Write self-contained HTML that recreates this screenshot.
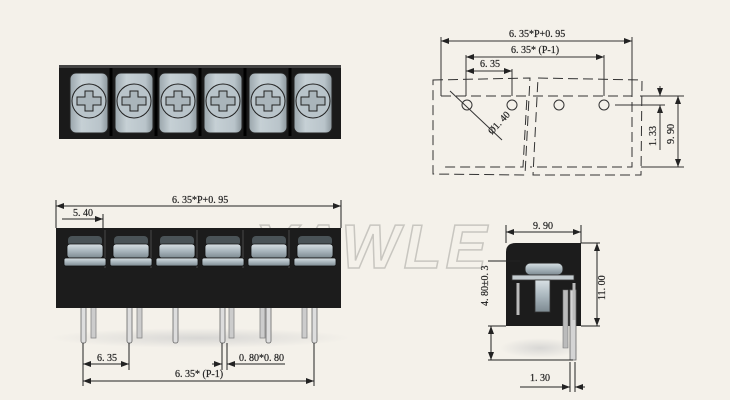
<!DOCTYPE html>
<html><head><style>
body{margin:0;background:#f4f1ea;}
svg{display:block}
text{font-family:"Liberation Serif",serif;font-size:10px;fill:#222;stroke:#222;stroke-width:0.2;}
</style></head><body>
<svg width="730" height="400" viewBox="0 0 730 400">
<defs>
<marker id="a" markerWidth="8" markerHeight="6" refX="8" refY="3" orient="auto-start-reverse"><path d="M0,0 L8,3 L0,6z" fill="#222"/></marker>
<linearGradient id="sc" x1="0" y1="0" x2="0" y2="1"><stop offset="0" stop-color="#d8e0e4"/><stop offset="0.5" stop-color="#a9b6bd"/><stop offset="1" stop-color="#7d8a91"/></linearGradient>
<linearGradient id="tc" x1="0" y1="0" x2="1" y2="0"><stop offset="0" stop-color="#9aa6ac"/><stop offset="0.3" stop-color="#c6d0d5"/><stop offset="0.8" stop-color="#b9c4ca"/><stop offset="1" stop-color="#8d989e"/></linearGradient>
<radialGradient id="sh"><stop offset="0" stop-color="#ccc" stop-opacity=".7"/><stop offset="1" stop-color="#ccc" stop-opacity="0"/></radialGradient>
</defs>
<rect width="730" height="400" fill="#f4f1ea"/>
<text x="255" y="268" style="font-family:'Liberation Sans',sans-serif;font-size:62px;font-style:italic;font-weight:bold;fill:none;stroke:#c8c6c0;stroke-width:1.5;letter-spacing:4px">YAWLE</text>

<!-- top view -->
<rect x="59" y="66" width="282" height="73" fill="#1a1a1a"/>
<rect x="59" y="65" width="282" height="3" fill="#444"/>
<g fill="url(#tc)" stroke="#222" stroke-width="1">
<rect x="70" y="73" width="38" height="60" rx="6"/>
<rect x="115" y="73" width="38" height="60" rx="6"/>
<rect x="159" y="73" width="38" height="60" rx="6"/>
<rect x="204" y="73" width="38" height="60" rx="6"/>
<rect x="249" y="73" width="38" height="60" rx="6"/>
<rect x="294" y="73" width="38" height="60" rx="6"/>
</g>
<g stroke="#000" stroke-width="3">
<path d="M111,68V136 M156,68V136 M200,68V136 M245,68V136 M290,68V136"/>
</g>
<g fill="#b9c4ca" stroke="#222" stroke-width="1">
<circle cx="89" cy="101" r="17"/><circle cx="134" cy="101" r="17"/><circle cx="178" cy="101" r="17"/><circle cx="223" cy="101" r="17"/><circle cx="268" cy="101" r="17"/><circle cx="313" cy="101" r="17"/>
</g>
<g fill="#aab5bb" stroke="#222" stroke-width="1">
<path d="M85,91h8v6h8v8h-8v6h-8v-6h-8v-8h8z"/>
<path d="M130,91h8v6h8v8h-8v6h-8v-6h-8v-8h8z"/>
<path d="M174,91h8v6h8v8h-8v6h-8v-6h-8v-8h8z"/>
<path d="M219,91h8v6h8v8h-8v6h-8v-6h-8v-8h8z"/>
<path d="M264,91h8v6h8v8h-8v6h-8v-6h-8v-8h8z"/>
<path d="M309,91h8v6h8v8h-8v6h-8v-6h-8v-8h8z"/>
</g>

<!-- right dashed drawing -->
<g stroke="#333" fill="none" stroke-width="1">
<path d="M433,80 L530,78 L525,175 L433,174z" stroke-dasharray="10,5"/>
<path d="M538,78 L642,80 L641,175 L533,175z" stroke-dasharray="10,5"/>
<path d="M441,96 L527,96 L523,167 L441,167 M533,96 L632,96 L632,167 L530,167" stroke-dasharray="10,5"/>
<circle cx="467" cy="105" r="5"/><circle cx="512" cy="105" r="5"/><circle cx="559" cy="105" r="5"/><circle cx="604" cy="105" r="5"/>
<path d="M441,96V37 M632,96V37 M466,96V55 M512,96V69 M604,96V55"/>
<path d="M441,41H632" marker-start="url(#a)" marker-end="url(#a)"/>
<path d="M466,57H604" marker-start="url(#a)" marker-end="url(#a)"/>
<path d="M466,71H512" marker-start="url(#a)" marker-end="url(#a)"/>
<path d="M450,91 L502,140"/>
<path d="M615,105H665 M640,96H684 M641,167H684"/>
<path d="M660,86V96" marker-end="url(#a)"/><path d="M660,115V105" marker-end="url(#a)"/>
<path d="M660,105V150"/>
<path d="M678,96V167" marker-start="url(#a)" marker-end="url(#a)"/>
</g>
<text x="509" y="37">6. 35*P+0. 95</text>
<text x="511" y="53">6. 35* (P-1)</text>
<text x="480" y="67">6. 35</text>
<text transform="translate(492,135) rotate(-47)">Ø1. 40</text>
<text transform="translate(656,146) rotate(-90)">1. 33</text>
<text transform="translate(674,144) rotate(-90)">9. 90</text>

<!-- front view -->
<ellipse cx="200" cy="338" rx="150" ry="10" fill="url(#sh)"/>
<g fill="#ccc" stroke="#888" stroke-width="0.8">
<rect x="91" y="305" width="5" height="33"/><rect x="137" y="305" width="5" height="33"/><rect x="229" y="305" width="5" height="33"/><rect x="260" y="305" width="5" height="33"/><rect x="302" y="305" width="5" height="33"/>
</g>
<g fill="#ddd" stroke="#666" stroke-width="0.8">
<rect x="81" y="305" width="5" height="38" rx="2"/><rect x="127" y="305" width="5" height="38" rx="2"/><rect x="173" y="305" width="5" height="38" rx="2"/><rect x="220" y="305" width="5" height="38" rx="2"/><rect x="266" y="305" width="5" height="38" rx="2"/><rect x="312" y="305" width="5" height="38" rx="2"/>
</g>
<rect x="56" y="228" width="285" height="80" fill="#1c1c1c"/>
<g stroke="#3a3a3a" stroke-width="1.5"><path d="M105,230V268 M151,230V268 M197,230V268 M243,230V268 M289,230V268"/></g>
<g fill="#4a5357"><rect x="68" y="236" width="34" height="10" rx="4"/><rect x="114" y="236" width="34" height="10" rx="4"/><rect x="160" y="236" width="34" height="10" rx="4"/><rect x="206" y="236" width="34" height="10" rx="4"/><rect x="252" y="236" width="34" height="10" rx="4"/><rect x="298" y="236" width="34" height="10" rx="4"/></g>
<g fill="url(#sc)" stroke="#111" stroke-width="0.8">
<rect x="67" y="244" width="36" height="14" rx="3"/><rect x="113" y="244" width="36" height="14" rx="3"/><rect x="159" y="244" width="36" height="14" rx="3"/><rect x="205" y="244" width="36" height="14" rx="3"/><rect x="251" y="244" width="36" height="14" rx="3"/><rect x="297" y="244" width="36" height="14" rx="3"/>
<rect x="64" y="258" width="42" height="8" rx="2"/><rect x="110" y="258" width="42" height="8" rx="2"/><rect x="156" y="258" width="42" height="8" rx="2"/><rect x="202" y="258" width="42" height="8" rx="2"/><rect x="248" y="258" width="42" height="8" rx="2"/><rect x="294" y="258" width="42" height="8" rx="2"/>
</g>
<g stroke="#222" fill="none" stroke-width="1">
<path d="M56,228V200 M341,228V200 M56,222V214 M103,228V214"/>
<path d="M56,206H341" marker-start="url(#a)" marker-end="url(#a)"/>
<path d="M62,219H103" marker-end="url(#a)"/>
<path d="M83,343V386 M129,343V370 M222,343V370 M227,343V370 M314,343V386"/>
<path d="M83,364H129" marker-start="url(#a)" marker-end="url(#a)"/>
<path d="M83,381H314" marker-start="url(#a)" marker-end="url(#a)"/>
<path d="M212,364H222" marker-end="url(#a)"/><path d="M237,364H227" marker-end="url(#a)"/><path d="M237,364H285"/>
</g>
<text x="172" y="203">6. 35*P+0. 95</text>
<text x="73" y="216">5. 40</text>
<text x="97" y="361">6. 35</text>
<text x="239" y="361">0. 80*0. 80</text>
<text x="175" y="377">6. 35* (P-1)</text>

<!-- side view -->
<ellipse cx="540" cy="348" rx="40" ry="10" fill="url(#sh)"/>
<path d="M506,326 V252 Q506,243 516,243 H581 V326z" fill="#1c1c1c"/>
<path d="M570,290 V360 H576 V290z" fill="#d4d4d4" stroke="#666" stroke-width="0.8"/>
<path d="M563,290 V348 H568 V290z" fill="#bbb" stroke="#777" stroke-width="0.6"/>
<rect x="525" y="263" width="38" height="12" rx="5" fill="url(#sc)" stroke="#222"/>
<rect x="512" y="275" width="62" height="5" fill="#c4ccd0" stroke="#333" stroke-width="0.8"/>
<path d="M518,283 V315 M574,283 V320" stroke="#bbb" stroke-width="3" fill="none"/>
<rect x="535" y="280" width="15" height="32" fill="url(#sc)" stroke="#333" stroke-width="0.8"/>
<g stroke="#222" fill="none" stroke-width="1">
<path d="M506,243V225 M581,243V225 M581,243H600 M581,326H600 M506,326H488 M520,261H488 M573,360H488 M570,362V392 M575,362V392"/>
<path d="M506,232H581" marker-start="url(#a)" marker-end="url(#a)"/>
<path d="M597,243V326" marker-start="url(#a)" marker-end="url(#a)"/>
<path d="M491,326V360" marker-start="url(#a)" marker-end="url(#a)"/>
<path d="M560,387H570" marker-end="url(#a)"/><path d="M585,387H575" marker-end="url(#a)"/><path d="M520,387H560"/>
</g>
<text x="533" y="229">9. 90</text>
<text transform="translate(605,300) rotate(-90)">11. 00</text>
<text transform="translate(488,306) rotate(-90)">4. 80±0. 3</text>
<text x="530" y="381">1. 30</text>
</svg>
</body></html>
